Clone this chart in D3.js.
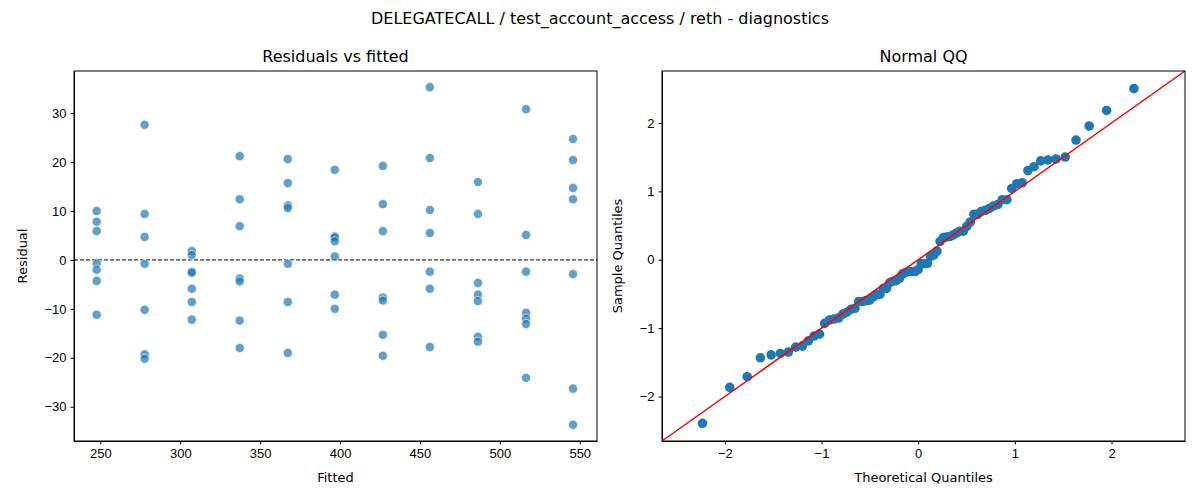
<!DOCTYPE html>
<html>
<head>
<meta charset="utf-8">
<title>Diagnostics</title>
<script src="https://cdn.jsdelivr.net/npm/d3@7"></script>
<style>
  body { margin: 0; background: #fff; }
  svg { font-family: "DejaVu Sans", sans-serif; }
  .tick text { font-size: 13px; fill: #000; }
  .tick line, .domain { stroke: #000; }
</style>
</head>
<body>
<svg id="chart" width="1200" height="500"></svg>
<script>
// fitted levels and residuals
var fittedLevels = [247.7, 277.7, 307.2, 337.2, 367.3, 396.7, 426.8, 456.2, 486.3, 516.4, 545.8];
var residualsByLevel = [
  [10.0, 7.8, 5.9, -0.7, -2.0, -4.3, -11.2],
  [27.6, 9.4, 4.7, -0.8, -10.2, -19.3, -20.2],
  [1.8, 1.0, -2.4, -2.6, -5.9, -8.6, -12.2],
  [21.2, 12.4, 6.9, -3.8, -4.4, -12.4, -18.0],
  [20.6, 15.7, 11.1, 10.6, -0.8, -8.6, -19.0],
  [18.4, 4.8, 4.6, 3.8, 0.7, -7.1, -10.0],
  [19.2, 11.4, 5.9, -7.7, -8.3, -15.3, -19.6],
  [35.3, 20.8, 10.2, 5.5, -2.4, -5.9, -17.8],
  [15.9, 9.4, -4.7, -7.1, -8.4, -15.7, -16.7],
  [30.8, 5.1, -2.4, -10.8, -12.0, -13.1, -24.1],
  [24.7, 20.4, 14.7, 12.4, -2.9, -26.3, -33.7]
];
var residTicks = [-30, -20, -10, 0, 10, 20, 30];
var fittedTicks = [250, 300, 350, 400, 450, 500, 550];
var qqTicks = [-2, -1, 0, 1, 2];

var points = [];
fittedLevels.forEach(function(f, i) {
  residualsByLevel[i].forEach(function(r) { points.push({ fitted: f, resid: r }); });
});

// inverse normal CDF (Acklam)
function qnorm(p) {
  var a = [-39.6968302866538, 220.946098424521, -275.928510446969, 138.357751867269, -30.6647980661472, 2.50662827745924];
  var b = [-54.4760987982241, 161.585836858041, -155.698979859887, 66.8013118877197, -13.2806815528857];
  var c = [-0.00778489400243029, -0.322396458041136, -2.40075827716184, -2.54973253934373, 4.37466414146497, 2.93816398269878];
  var d = [0.00778469570904146, 0.32246712907004, 2.445134137143, 3.75440866190742];
  var q, r;
  if (p < 0.02425) {
    q = Math.sqrt(-2 * Math.log(p));
    return (((((c[0]*q+c[1])*q+c[2])*q+c[3])*q+c[4])*q+c[5]) / ((((d[0]*q+d[1])*q+d[2])*q+d[3])*q+1);
  } else if (p > 1 - 0.02425) {
    q = Math.sqrt(-2 * Math.log(1 - p));
    return -(((((c[0]*q+c[1])*q+c[2])*q+c[3])*q+c[4])*q+c[5]) / ((((d[0]*q+d[1])*q+d[2])*q+d[3])*q+1);
  }
  q = p - 0.5; r = q * q;
  return (((((a[0]*r+a[1])*r+a[2])*r+a[3])*r+a[4])*r+a[5])*q / (((((b[0]*r+b[1])*r+b[2])*r+b[3])*r+b[4])*r+1);
}

var resid = points.map(function(p) { return p.resid; });
var mean = d3.mean(resid), sd = d3.deviation(resid);
var sorted = resid.slice().sort(d3.ascending);
var n = sorted.length;
var qq = sorted.map(function(v, i) { return { theo: qnorm((i + 1) / (n + 1)), samp: (v - mean) / sd }; });

var svg = d3.select('#chart');

svg.append('text').attr('x', 600).attr('y', 24).attr('text-anchor', 'middle')
  .style('font-size', '16px').text('DELEGATECALL / test_account_access / reth - diagnostics');

var minus = function(d) { return d < 0 ? '\u2212' + (-d) : d; };

function frame(x0, x1, title, xlab, ylab, ylabX) {
  var g = svg.append('g');
  g.append('text').attr('x', (x0 + x1) / 2).attr('y', 62).attr('text-anchor', 'middle')
    .style('font-size', '16px').text(title);
  g.append('text').attr('x', (x0 + x1) / 2).attr('y', 482).attr('text-anchor', 'middle')
    .style('font-size', '13px').text(xlab);
  g.append('text').attr('transform', 'translate(' + ylabX + ',256) rotate(-90)').attr('text-anchor', 'middle')
    .style('font-size', '13px').text(ylab);
  return g;
}

// ---- left: residuals vs fitted
var plotTop = 71, plotBottom = 441;
var x1 = d3.scaleLinear().domain([233.5, 560.8]).range([74, 597]);
var y1 = d3.scaleLinear().domain([-37.0, 38.6]).range([plotBottom, plotTop]);
var g1 = frame(74, 597, 'Residuals vs fitted', 'Fitted', 'Residual', 27);

g1.append('g').attr('transform', 'translate(0,' + plotBottom + ')')
  .call(d3.axisBottom(x1).tickValues(fittedTicks).tickSize(3.5).tickPadding(4).tickSizeOuter(0));
g1.append('g').attr('transform', 'translate(74,0)')
  .call(d3.axisLeft(y1).tickValues(residTicks).tickSize(3.5).tickPadding(4).tickSizeOuter(0).tickFormat(minus));

g1.append('line').attr('x1', 74).attr('x2', 597).attr('y1', y1(0)).attr('y2', y1(0))
  .attr('stroke', '#000').attr('stroke-width', 1).attr('stroke-dasharray', '4,2');

g1.selectAll('circle').data(points).enter().append('circle')
  .attr('cx', function(d) { return x1(d.fitted); })
  .attr('cy', function(d) { return y1(d.resid); })
  .attr('r', 4.6).attr('fill', '#1f77b4').attr('fill-opacity', 0.7)
  .attr('stroke', '#fff').attr('stroke-width', 0.6);

g1.append('rect').attr('x', 74).attr('y', plotTop).attr('width', 523).attr('height', plotBottom - plotTop)
  .attr('fill', 'none').attr('stroke', '#000').attr('stroke-width', 1);

// ---- right: normal QQ
var lo = -2.65, hi = 2.76;
var x2 = d3.scaleLinear().domain([lo, hi]).range([662, 1185]);
var y2 = d3.scaleLinear().domain([lo, hi]).range([plotBottom, plotTop]);
var g2 = frame(662, 1185, 'Normal QQ', 'Theoretical Quantiles', 'Sample Quantiles', 622);

g2.append('g').attr('transform', 'translate(0,' + plotBottom + ')')
  .call(d3.axisBottom(x2).tickValues(qqTicks).tickSize(3.5).tickPadding(4).tickSizeOuter(0).tickFormat(minus));
g2.append('g').attr('transform', 'translate(662,0)')
  .call(d3.axisLeft(y2).tickValues(qqTicks).tickSize(3.5).tickPadding(4).tickSizeOuter(0).tickFormat(minus));

g2.selectAll('circle').data(qq).enter().append('circle')
  .attr('cx', function(d) { return x2(d.theo); })
  .attr('cy', function(d) { return y2(d.samp); })
  .attr('r', 4.8).attr('fill', '#1f77b4');

g2.append('line').attr('x1', x2(lo)).attr('y1', y2(lo)).attr('x2', x2(hi)).attr('y2', y2(hi))
  .attr('stroke', 'red').attr('stroke-width', 1.5);

g2.append('rect').attr('x', 662).attr('y', plotTop).attr('width', 523).attr('height', plotBottom - plotTop)
  .attr('fill', 'none').attr('stroke', '#000').attr('stroke-width', 1);
</script>
</body>
</html>
